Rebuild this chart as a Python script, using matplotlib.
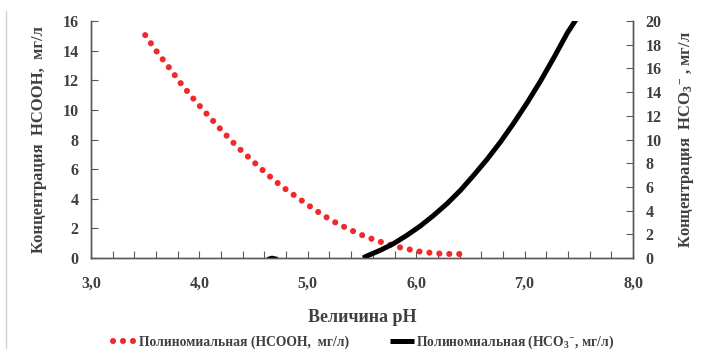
import matplotlib
matplotlib.use("Agg")
import matplotlib.pyplot as plt
from matplotlib.lines import Line2D
from matplotlib.ticker import MultipleLocator, FuncFormatter

plt.rcParams['font.family'] = ['Liberation Serif', 'DejaVu Serif']
plt.rcParams['font.weight'] = 'bold'
plt.rcParams['mathtext.fontset'] = 'custom'
plt.rcParams['mathtext.rm'] = 'Liberation Serif:bold'
plt.rcParams['mathtext.it'] = 'Liberation Serif:bold'
plt.rcParams['mathtext.bf'] = 'Liberation Serif:bold'

# HCOOH trend (left axis)
ph_hcooh = [3.50, 3.61, 3.73, 3.84, 3.96, 4.08, 4.22, 4.35, 4.49, 4.62, 4.76,
            4.92, 5.07, 5.22, 5.38, 5.54, 5.70, 5.87, 6.05, 6.15, 6.25, 6.35, 6.46]
hcooh = [15.05, 13.9, 12.77, 11.68, 10.62, 9.63, 8.5, 7.5, 6.56, 5.69, 4.83,
         4.0, 3.23, 2.53, 1.94, 1.42, 1.02, 0.68, 0.41, 0.34, 0.28, 0.27, 0.27]

# HCO3- trend (right axis)
ph_hco3 = [5.51, 5.545, 5.668, 5.79, 5.915, 6.038, 6.161, 6.285, 6.408, 6.53,
           6.654, 6.777, 6.90, 7.024, 7.147, 7.27, 7.394, 7.47, 7.50]
hco3 = [0.0, 0.17, 0.65, 1.21, 1.92, 2.70, 3.6, 4.59, 5.71, 6.98,
        8.33, 9.79, 11.39, 13.11, 14.94, 16.91, 18.99, 20.06, 20.5]
# small piece of the same curve near pH 4.7
ph_bump = [4.64, 4.67, 4.71]
hco3_bump = [0.0, 0.08, 0.0]

txt = '#404040'
spine = '#595959'
bold = dict(fontweight='bold', color=txt)

fig = plt.figure(figsize=(7.13, 3.55), dpi=100)
ax = fig.add_axes([0.1276, 0.2732, 0.7602, 0.6676])
ax2 = ax.twinx()

l1, = ax.plot(ph_hcooh, hcooh, color='#ee2a2a', lw=4.4,
              linestyle=(0, (0.01, 1.62)), dash_capstyle='round',
              label='Полиномиальная (HCOOH,  мг/л)')
l2, = ax2.plot(ph_hco3, hco3, color='black', lw=3.6, solid_capstyle='butt',
               solid_joinstyle='round',
               label='Полиномиальная (HCO$_3$$^{-}$, мг/л)')
ax2.plot(ph_bump, hco3_bump, color='black', lw=2.0)

ax.set_xlim(3.0, 8.0)
ax.set_ylim(0, 16)
ax2.set_ylim(0, 20)

ax.xaxis.set_major_locator(MultipleLocator(1.0))
ax.xaxis.set_minor_locator(MultipleLocator(0.2))
ax.xaxis.set_major_formatter(FuncFormatter(lambda v, p: f'{v:.1f}'.replace('.', ',')))
ax.yaxis.set_major_locator(MultipleLocator(2))
ax2.yaxis.set_major_locator(MultipleLocator(2))

for a in (ax, ax2):
    a.spines['top'].set_visible(False)
    for s in ('left', 'right', 'bottom'):
        a.spines[s].set_color(spine)
        a.spines[s].set_linewidth(1.0)
    a.tick_params(direction='in', colors=spine, labelcolor=txt, labelsize=11.5, length=5, width=0.8)
ax.tick_params(axis='x', which='minor', direction='in', length=5, width=0.8, colors=spine)
ax.tick_params(axis='x', which='major', pad=13)
ax.tick_params(axis='y', pad=9)
ax2.tick_params(axis='y', pad=9)
for lab in ax.get_xticklabels() + ax.get_yticklabels() + ax2.get_yticklabels():
    lab.set_fontweight('bold')

ax.set_xlabel('Величина pH', fontsize=13, labelpad=12, **bold)
ax.set_ylabel('Концентрация  HCOOH,  мг/л', fontsize=12, labelpad=11, **bold)
ax2.set_ylabel('Концентрация  HCO$_3$$^{-}$ , мг/л', fontsize=12, labelpad=11, **bold)

leg = fig.legend(handles=[l1, l2], loc='center', bbox_to_anchor=(0.51, 0.037), ncol=2,
                 frameon=False, fontsize=9.8, labelcolor=txt, handlelength=1.8,
                 handletextpad=0.1, columnspacing=3.0)
for t in leg.get_texts():
    t.set_fontweight('bold')

fig.add_artist(Line2D([0.009, 0.009], [0.02, 0.97], color='#d0d0d0', lw=1.0,
                      transform=fig.transFigure))

fig.savefig('out.png', dpi=100)
